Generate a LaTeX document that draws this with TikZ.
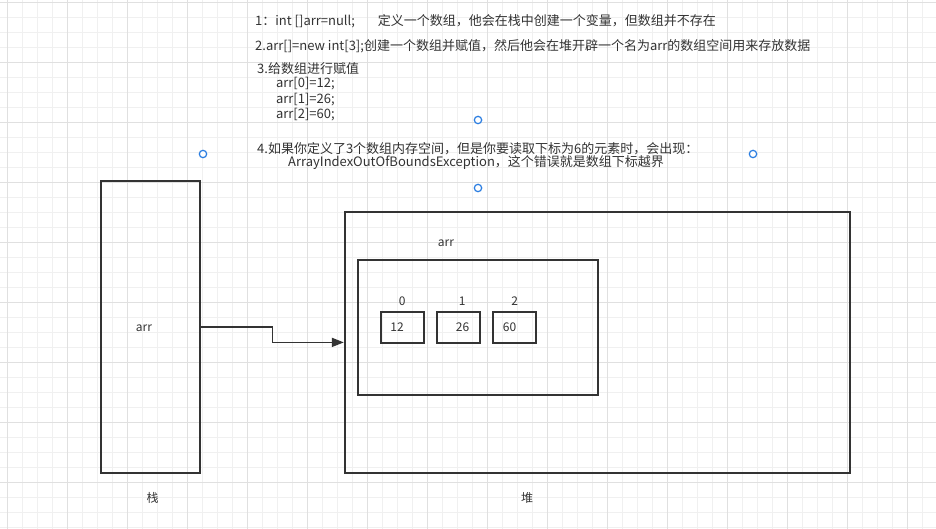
\documentclass[tikz,border=0pt]{standalone}
\usepackage{fontspec}
\setmainfont{Noto Sans CJK SC}
\usetikzlibrary{arrows.meta,positioning}
\definecolor{ink}{HTML}{333333}
\definecolor{handle}{HTML}{2A7DE1}
\definecolor{finegrid}{HTML}{F0F0F0}
\definecolor{coarsegrid}{HTML}{E0E0E0}
\tikzset{
  memblock/.style={draw=ink,line width=2pt,inner sep=0pt},
  caption/.style={text=ink,font=\fontsize{12}{14}\selectfont,inner sep=0pt},
  note/.style={caption,anchor=west,font=\fontsize{13}{15}\selectfont},
  pointer/.style={draw=ink,line width=1.6pt,-{Triangle[length=12pt,width=9pt]}},
  grip/.style={circle,draw=handle,fill=white,line width=1.2pt,minimum size=7.4pt,inner sep=0pt}
}
\begin{document}
\begin{tikzpicture}[x=1pt,y=-1pt]
\useasboundingbox[fill=white] (0,0) rectangle (936,529);
\foreach \x in {7,22,...,936} \draw[finegrid] (\x,0) -- (\x,529);
\foreach \y in {2,17,...,529} \draw[finegrid] (0,\y) -- (936,\y);
\foreach \x in {7,67,...,936} \draw[coarsegrid] (\x,0) -- (\x,529);
\foreach \y in {2,62,...,529} \draw[coarsegrid] (0,\y) -- (936,\y);

\node[note] (line1) at (255,21.7) {1：int []arr=null;\hspace{23pt}定义一个数组，他会在栈中创建一个变量，但数组并不存在};
\node[note] (line2) at (255,46) {2.arr[]=new int[3];创建一个数组并赋值，然后他会在堆开辟一个名为arr的数组空间用来存放数据};
\node[note] (line3) at (257,68.3) {3.给数组进行赋值};
\foreach \i/\v/\y in {0/12/83.3,1/26/99.3,2/60/115}
  \node[note] (asg\i) at (275.8,\y) {arr[\i]=\v;};
\node[note] (line4) at (257,148.3) {4.如果你定义了3个数组内存空间，但是你要读取下标为6的元素时，会出现：};
\node[note] (line4b) at (288,162.3) {ArrayIndexOutOfBoundsException，这个错误就是数组下标越界};

\node[memblock,minimum width=99pt,minimum height=292pt] (stack) at (150.5,326.8) {};
\node[caption] (stackvar) at (144,328.5) {arr};
\node[caption] (stackname) at (152.5,497.5) {栈};
\node[memblock,minimum width=505pt,minimum height=260.5pt] (heap) at (597.3,342.4) {};
\node[caption] (heapname) at (527,497.5) {堆};
\node[memblock,minimum width=240.5pt,minimum height=135pt] (array) at (478,327.5) {};
\node[caption] (arrayname) at (446,243) {arr};
\foreach \i/\v/\vx/\ix in {0/12/397/402.3,1/26/462.5/462.3,2/60/509.5/514.7}{
  \node[memblock,minimum width=43.3pt,minimum height=31.6pt] (cell\i) at ({402.3+56*\i},327.5) {};
  \node[caption] (val\i) at (\vx,327.5) {\v};
  \node[caption] (idx\i) at (\ix,301) {\i};
}
\coordinate (elbow) at (272.5,334);
\draw[pointer] (stack.east) -| (elbow) |- (heap.west);

\foreach \n/\hx/\hy in {a/203/154,b/478/120,c/753/154,d/478/188}
  \node[grip] (grip\n) at (\hx,\hy) {};
\end{tikzpicture}
\end{document}
